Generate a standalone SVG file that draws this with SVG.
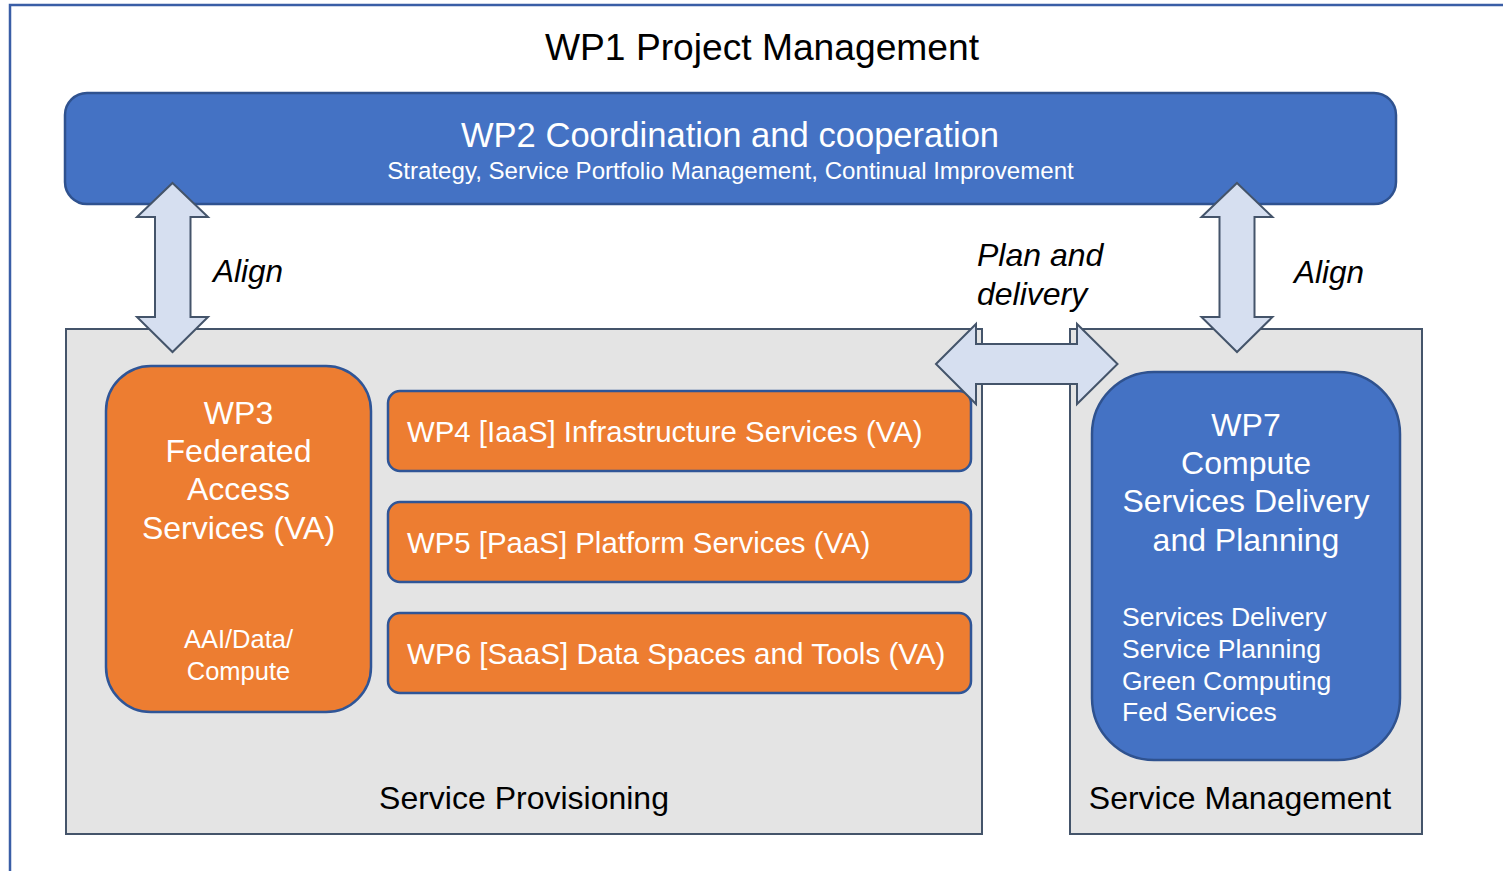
<svg xmlns="http://www.w3.org/2000/svg" width="1503" height="871" viewBox="0 0 1503 871">
<defs>
<style>
text{font-family:"Liberation Sans",Arial,sans-serif;}
.blk{fill:#000;}
.wht{fill:#fff;}
.mid{text-anchor:middle;}
.it{font-style:italic;}
.gray{fill:#e4e4e4;stroke:#44546a;stroke-width:2;}
.org{fill:#ed7d31;stroke:#2f5597;stroke-width:2.5;}
.blu{fill:#4472c4;stroke:#2f528f;stroke-width:2.5;}
.arr{fill:#d6dff0;stroke:#44546a;stroke-width:2;stroke-linejoin:miter;}
</style>
</defs>
<rect x="0" y="0" width="1503" height="871" fill="#fff"/>
<rect x="10" y="5" width="1530" height="900" fill="none" stroke="#3a5ea6" stroke-width="2.5"/>
<text class="blk mid" x="762" y="60" font-size="37.2">WP1 Project Management</text>

<g id="service-provisioning">
<rect class="gray" x="66" y="329" width="916" height="505"/>
<text class="blk mid" x="524" y="809" font-size="32">Service Provisioning</text>
</g>
<g id="service-management">
<rect class="gray" x="1070" y="329" width="352" height="505"/>
<text class="blk mid" x="1240" y="809" font-size="32">Service Management</text>
</g>

<g id="wp2">
<rect class="blu" x="65" y="93" width="1331" height="111" rx="22"/>
<text class="wht mid" x="730" y="147" font-size="34.6">WP2 Coordination and cooperation</text>
<text class="wht mid" x="730.5" y="179" font-size="24.1">Strategy, Service Portfolio Management, Continual Improvement</text>
</g>

<g id="wp3">
<rect class="org" x="106" y="366" width="265" height="346" rx="45"/>
<text class="wht mid" font-size="32"><tspan x="238.5" y="424">WP3</tspan><tspan x="238.5" y="462">Federated</tspan><tspan x="238.5" y="500">Access</tspan><tspan x="238.5" y="539">Services (VA)</tspan></text>
<text class="wht mid" font-size="25.5"><tspan x="238.5" y="648">AAI/Data/</tspan><tspan x="238.5" y="680">Compute</tspan></text>
</g>

<g id="wp4">
<rect class="org" x="388" y="391" width="583" height="80" rx="12"/>
<text class="wht" x="407" y="442" font-size="29.4">WP4 [IaaS] Infrastructure Services (VA)</text>
</g>
<g id="wp5">
<rect class="org" x="388" y="502" width="583" height="80" rx="12"/>
<text class="wht" x="407" y="553" font-size="29.4">WP5 [PaaS] Platform Services (VA)</text>
</g>
<g id="wp6">
<rect class="org" x="388" y="613" width="583" height="80" rx="12"/>
<text class="wht" x="407" y="664" font-size="29.6">WP6 [SaaS] Data Spaces and Tools (VA)</text>
</g>

<g id="wp7">
<rect class="blu" x="1092" y="372" width="308" height="388" rx="62"/>
<text class="wht mid" font-size="32"><tspan x="1246" y="436">WP7</tspan><tspan x="1246" y="474">Compute</tspan><tspan x="1246" y="512">Services Delivery</tspan><tspan x="1246" y="551">and Planning</tspan></text>
<text class="wht" font-size="26.5"><tspan x="1122" y="626">Services Delivery</tspan><tspan x="1122" y="658">Service Planning</tspan><tspan x="1122" y="690">Green Computing</tspan><tspan x="1122" y="721">Fed Services</tspan></text>
</g>

<g id="connectors">
<polygon class="arr" points="172.5,183 208,217 190.5,217 190.5,317 208,317 172.5,352 137,317 155,317 155,217 137,217"/>
<polygon class="arr" points="1237,183 1272.5,217 1254.5,217 1254.5,317 1272.5,317 1237,352 1201.5,317 1219.5,317 1219.5,217 1201.5,217"/>
<polygon class="arr" points="936,364 976,324 976,344 1077,344 1077,324 1117.5,364 1077,404 1077,384 976,384 976,404"/>
<text class="blk it" x="213" y="282" font-size="31.5">Align</text>
<text class="blk it" x="1294" y="283" font-size="31.5">Align</text>
<text class="blk it" font-size="32"><tspan x="977" y="266">Plan and</tspan><tspan x="977" y="305">delivery</tspan></text>
</g>
</svg>
